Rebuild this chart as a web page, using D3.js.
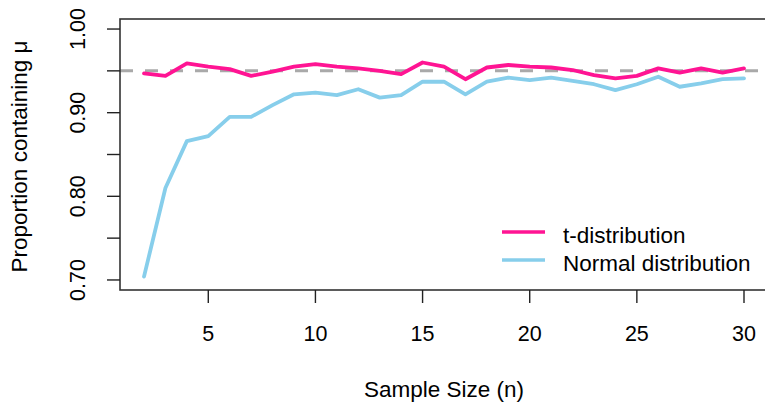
<!DOCTYPE html>
<html>
<head>
<meta charset="utf-8">
<script src="https://cdn.jsdelivr.net/npm/d3@7"></script>
<style>
  html, body { margin: 0; padding: 0; background: #fff; }
  svg { display: block; }
  text { font-family: "Liberation Sans", Arial, sans-serif; fill: #000; }
</style>
</head>
<body>
<svg id="chart" width="765" height="403"></svg>
<script>
// ---- data ----
const sampleSizes = [2,3,4,5,6,7,8,9,10,11,12,13,14,15,16,17,18,19,20,21,22,23,24,25,26,27,28,29,30];
const tDist = [0.947,0.944,0.959,0.955,0.952,0.944,0.949,0.955,0.958,0.955,0.953,0.950,0.946,0.960,0.955,0.940,0.954,0.957,0.955,0.954,0.951,0.945,0.941,0.944,0.953,0.948,0.953,0.948,0.953];
const normalDist = [0.704,0.810,0.866,0.872,0.895,0.895,0.909,0.922,0.924,0.921,0.928,0.918,0.921,0.937,0.937,0.922,0.937,0.942,0.939,0.942,0.938,0.934,0.927,0.934,0.943,0.931,0.935,0.940,0.941];
const xTicks = [5,10,15,20,25,30];
const yTicks = [0.70,0.75,0.80,0.85,0.90,0.95,1.00];
const yLabels = [0.70,0.80,0.90,1.00];
const reference = 0.95;
const seriesNames = ["t-distribution","Normal distribution"];
const seriesColors = ["#FF1493","#87CEEB"];

// ---- layout ----
const svg = d3.select("#chart");
const L = 120, R = 768, T = 19, B = 290;
const x = d3.scaleLinear().domain([0.88, 31.12]).range([L, R]);
const y = d3.scaleLinear().domain([0.688, 1.012]).range([B, T]);

// reference dashed line
svg.append("line")
  .attr("x1", L).attr("x2", R)
  .attr("y1", y(reference)).attr("y2", y(reference))
  .attr("stroke", "#A9A9A9").attr("stroke-width", 3)
  .attr("stroke-dasharray", "13,12");

const line = d3.line().x((d,i) => x(sampleSizes[i])).y(d => y(d));
[tDist, normalDist].forEach((s, k) => {
  svg.append("path").datum(s)
    .attr("d", line)
    .attr("fill", "none")
    .attr("stroke", seriesColors[k])
    .attr("stroke-width", 3.8)
    .attr("stroke-linejoin", "round")
    .attr("stroke-linecap", "round");
});

// box
svg.append("rect")
  .attr("x", L).attr("y", T).attr("width", R - L).attr("height", B - T)
  .attr("fill", "none").attr("stroke", "#333").attr("stroke-width", 1.6);

// x axis
const xAxis = svg.append("g");
xTicks.forEach(t => {
  xAxis.append("line").attr("x1", x(t)).attr("x2", x(t)).attr("y1", B).attr("y2", B + 13)
    .attr("stroke", "#222").attr("stroke-width", 1.4);
  xAxis.append("text").attr("x", x(t)).attr("y", 341).attr("text-anchor", "middle")
    .attr("font-size", 21.5).text(t);
});

// y axis
const yAxis = svg.append("g");
yTicks.forEach(t => {
  yAxis.append("line").attr("x1", L - 13).attr("x2", L).attr("y1", y(t)).attr("y2", y(t))
    .attr("stroke", "#222").attr("stroke-width", 1.4);
});
yLabels.forEach(t => {
  yAxis.append("text")
    .attr("transform", `translate(85,${y(t)}) rotate(-90)`)
    .attr("text-anchor", "middle").attr("font-size", 21.5)
    .text(d3.format(".2f")(t));
});

// axis titles
svg.append("text").attr("x", (L + R) / 2).attr("y", 397).attr("text-anchor", "middle")
  .attr("font-size", 22.5).text("Sample Size (n)");
svg.append("text")
  .attr("transform", `translate(27,${(T + B) / 2 + 2}) rotate(-90)`)
  .attr("text-anchor", "middle").attr("font-size", 22.5)
  .text("Proportion containing μ");

// legend
const legY = [232, 260];
seriesNames.forEach((n, k) => {
  svg.append("line").attr("x1", 502).attr("x2", 545).attr("y1", legY[k]).attr("y2", legY[k])
    .attr("stroke", seriesColors[k]).attr("stroke-width", 3.5);
  svg.append("text").attr("x", 563).attr("y", legY[k] + 11).attr("font-size", 22.5).text(n);
});
</script>
</body>
</html>
